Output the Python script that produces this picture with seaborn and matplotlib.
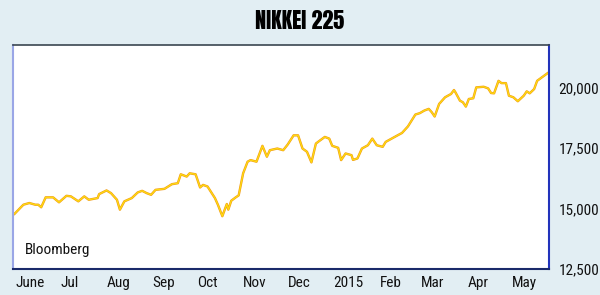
import matplotlib
matplotlib.use("Agg")
import matplotlib.pyplot as plt
import seaborn as sns
import pandas as pd
from matplotlib.ticker import FuncFormatter

title = "NIKKEI 225"
source = "Bloomberg"

dates = [
    "2014-05-31", "2014-06-06", "2014-06-10", "2014-06-14", "2014-06-16", "2014-06-18",
    "2014-06-21", "2014-06-26", "2014-06-30", "2014-07-05", "2014-07-08", "2014-07-13",
    "2014-07-17", "2014-07-20", "2014-07-26", "2014-07-27", "2014-08-01", "2014-08-04",
    "2014-08-08", "2014-08-10", "2014-08-13", "2014-08-18", "2014-08-22", "2014-08-25",
    "2014-08-28", "2014-08-31", "2014-09-03", "2014-09-09", "2014-09-14", "2014-09-18",
    "2014-09-20", "2014-09-24", "2014-09-26", "2014-09-30", "2014-10-03", "2014-10-05",
    "2014-10-08", "2014-10-13", "2014-10-15", "2014-10-18", "2014-10-20", "2014-10-21",
    "2014-10-22", "2014-10-24", "2014-10-27", "2014-10-29", "2014-11-01", "2014-11-04",
    "2014-11-06", "2014-11-10", "2014-11-14", "2014-11-17", "2014-11-19", "2014-11-24",
    "2014-11-28", "2014-12-01", "2014-12-05", "2014-12-08", "2014-12-11", "2014-12-14",
    "2014-12-17", "2014-12-20", "2014-12-22", "2014-12-26", "2014-12-29", "2014-12-31",
    "2015-01-04", "2015-01-06", "2015-01-09", "2015-01-13", "2015-01-14", "2015-01-17",
    "2015-01-20", "2015-01-24", "2015-01-27", "2015-01-30", "2015-02-03", "2015-02-05",
    "2015-02-09", "2015-02-13", "2015-02-16", "2015-02-20", "2015-02-25", "2015-02-28",
    "2015-03-03", "2015-03-06", "2015-03-08", "2015-03-10", "2015-03-13", "2015-03-17",
    "2015-03-21", "2015-03-23", "2015-03-24", "2015-03-27", "2015-03-29", "2015-03-31",
    "2015-04-02", "2015-04-05", "2015-04-07", "2015-04-12", "2015-04-15", "2015-04-17",
    "2015-04-19", "2015-04-22", "2015-04-24", "2015-04-27", "2015-04-29", "2015-05-02",
    "2015-05-05", "2015-05-09", "2015-05-11", "2015-05-13", "2015-05-16", "2015-05-18",
    "2015-05-22", "2015-05-25",
]
values = [
    14775, 15155, 15225, 15155, 15155, 15049,
    15458, 15458, 15253, 15523, 15499, 15294,
    15499, 15360, 15429, 15593, 15744, 15634,
    15360, 14950, 15294, 15429, 15662, 15728,
    15634, 15564, 15769, 15810, 16002, 16043,
    16411, 16317, 16452, 16411, 15867, 15973,
    15908, 15429, 15155, 14680, 15020, 15184,
    14950, 15319, 15458, 15540, 16452, 16931,
    16997, 16931, 17586, 17136, 17406, 17475,
    17406, 17639, 18019, 18019, 17475, 17340,
    16902, 17680, 17774, 17954, 17884, 17586,
    17504, 16997, 17271, 17201, 17005, 17066,
    17475, 17610, 17884, 17610, 17545, 17749,
    17884, 18019, 18118, 18388, 18879, 18936,
    19042, 19112, 18977, 18797, 19317, 19591,
    19726, 19890, 19795, 19452, 19386, 19206,
    19521, 19550, 20000, 20025, 19959, 19767,
    19754, 20270, 20176, 20176, 19656, 19591,
    19427, 19656, 19836, 19754, 19930, 20270,
    20450, 20585,
]

month_ticks = ["2014-06-01", "2014-07-01", "2014-08-01", "2014-09-01", "2014-10-01",
               "2014-11-01", "2014-12-01", "2015-01-01", "2015-02-01", "2015-03-01",
               "2015-04-01", "2015-05-01"]
month_labels = ["June", "Jul", "Aug", "Sep", "Oct", "Nov", "Dec", "2015", "Feb", "Mar",
                "Apr", "May"]
y_ticks = [12500, 15000, 17500, 20000]

df = pd.DataFrame({"date": pd.to_datetime(dates), "value": values})

narrow = ["Roboto Condensed", "DejaVu Sans"]
heavy = ["Anton", "DejaVu Sans"]
bg = "#e2eef3"

fig = plt.figure(figsize=(6.0, 2.95), dpi=100, facecolor=bg)
ax = fig.add_axes([13 / 600, 1 - 269 / 295, (549 - 13) / 600, (269 - 45) / 295])
ax.set_facecolor("white")

sns.lineplot(data=df, x="date", y="value", ax=ax, color="#f09a18", linewidth=1.7)
sns.lineplot(data=df, x="date", y="value", ax=ax, color="#ffdc10", linewidth=0.9)

ax.set_xlim(pd.Timestamp("2014-05-30"), pd.Timestamp("2015-05-26"))
ax.set_ylim(12500, 21750)

ax.set_xticks(pd.to_datetime(month_ticks))
ax.set_xticklabels(month_labels, fontfamily=narrow, fontsize=11, ha="left", color="#111111")
ax.yaxis.tick_right()
ax.set_yticks(y_ticks)
ax.yaxis.set_major_formatter(FuncFormatter(lambda v, p: f"{int(v):,}"))
for lbl in ax.get_yticklabels():
    lbl.set_fontfamily(narrow)
    lbl.set_fontsize(11)
    lbl.set_color("#111111")
ax.tick_params(axis="both", length=0)
ax.tick_params(axis="x", pad=5)
ax.tick_params(axis="y", pad=7)
ax.set_xlabel("")
ax.set_ylabel("")
ax.grid(False)

ax.spines["left"].set_color("#9aa6e6")
ax.spines["left"].set_linewidth(1.5)
ax.spines["top"].set_color("#3a4650")
ax.spines["top"].set_linewidth(1.2)
ax.spines["right"].set_color("#2233bb")
ax.spines["right"].set_linewidth(1.5)
ax.spines["bottom"].set_color("#1a2a6a")
ax.spines["bottom"].set_linewidth(1.5)

ax.text(0.022, 0.085, source, transform=ax.transAxes, fontfamily=narrow, fontsize=11,
        color="#111111", ha="left", va="center")

fig.text(0.5, 1 - 21 / 295, title, fontfamily=heavy, fontsize=16,
         ha="center", va="center", color="black")

fig.savefig("out.png", dpi=100, facecolor=bg)
